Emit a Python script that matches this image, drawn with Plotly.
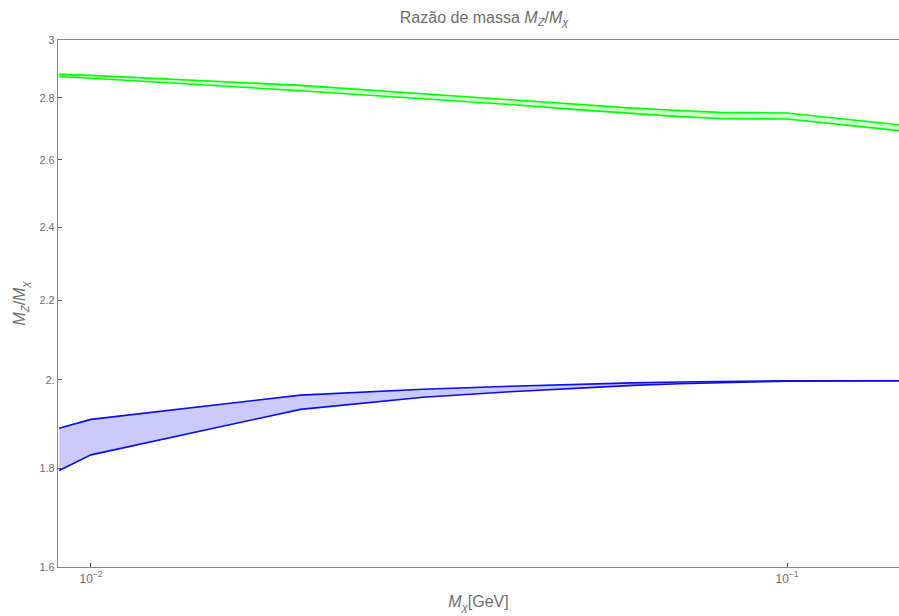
import plotly.graph_objects as go

# Mass values M_chi in GeV
mx = [0.009, 0.01, 0.02, 0.03, 0.04, 0.05, 0.06, 0.07, 0.08, 0.09, 0.1, 0.15]

# Lower band (blue): upper and lower edge of M_Z/M_chi
blue_upper = [1.888, 1.908, 1.964, 1.978, 1.985, 1.990, 1.993, 1.995, 1.996, 1.997, 1.998, 1.998]
blue_lower = [1.795, 1.829, 1.931, 1.959, 1.972, 1.981, 1.987, 1.991, 1.993, 1.995, 1.997, 1.998]

# Upper band (green)
green_upper = [2.880, 2.876, 2.842, 2.814, 2.794, 2.778, 2.766, 2.758, 2.752, 2.751, 2.750, 2.708]
green_lower = [2.872, 2.866, 2.824, 2.798, 2.778, 2.761, 2.748, 2.738, 2.732, 2.731, 2.730, 2.689]

y_ticks = [1.6, 1.8, 2.0, 2.2, 2.4, 2.6, 2.8, 3.0]
y_tick_text = ["1.6", "1.8", "2.", "2.2", "2.4", "2.6", "2.8", "3"]
x_ticks = [0.01, 0.1]
x_tick_text = ["10<sup>\u22122</sup>", "10<sup>\u22121</sup>"]

FONT = "Liberation Sans, Arial, sans-serif"
GRAY = "#6e6e6e"

fig = go.Figure()


def band(lower, upper, line_color, fill_color):
    fig.add_trace(go.Scatter(x=mx, y=lower, mode="lines",
                             line=dict(color=line_color, width=1.6),
                             showlegend=False, hoverinfo="skip"))
    fig.add_trace(go.Scatter(x=mx, y=upper, mode="lines", fill="tonexty",
                             fillcolor=fill_color,
                             line=dict(color=line_color, width=1.6),
                             showlegend=False, hoverinfo="skip"))


band(green_lower, green_upper, "rgb(0,255,0)", "rgba(0,255,0,0.2)")
band(blue_lower, blue_upper, "rgb(10,10,245)", "rgba(60,60,245,0.27)")

fig.update_layout(
    width=899, height=616,
    margin=dict(l=58, r=0, t=40, b=49),
    paper_bgcolor="white", plot_bgcolor="white",
    font=dict(family=FONT, color=GRAY, size=11),
    title=dict(text="Razão de massa <i>M</i><sub><i>Z</i></sub>/<i>M</i><sub><i>χ</i></sub>",
               x=0.5385, xanchor="center", y=0.972, yanchor="middle",
               font=dict(family=FONT, size=16, color=GRAY)),
)

fig.update_xaxes(
    type="log", range=[-2.0474, -0.8391],
    tickvals=x_ticks, ticktext=x_tick_text,
    ticks="inside", ticklen=4, tickcolor="#555",
    showline=True, linecolor="#888", linewidth=1.2, mirror=True,
    showgrid=False, zeroline=False,
    tickfont=dict(size=12, color=GRAY),
    title=dict(text="<i>M</i><sub><i>χ</i></sub>[GeV]",
               font=dict(size=16, color=GRAY), standoff=11),
)

fig.update_yaxes(
    type="log", range=[0.20412, 0.47712],
    tickvals=y_ticks, ticktext=y_tick_text,
    ticks="inside", ticklen=4, tickcolor="#555",
    showline=True, linecolor="#888", linewidth=1.2,
    showgrid=False, zeroline=False,
    tickfont=dict(size=11, color=GRAY),
    title=dict(text="<i>M</i><sub><i>Z</i></sub>/<i>M</i><sub><i>χ</i></sub>",
               font=dict(size=16, color=GRAY), standoff=9),
)

fig.write_html("out.html")
